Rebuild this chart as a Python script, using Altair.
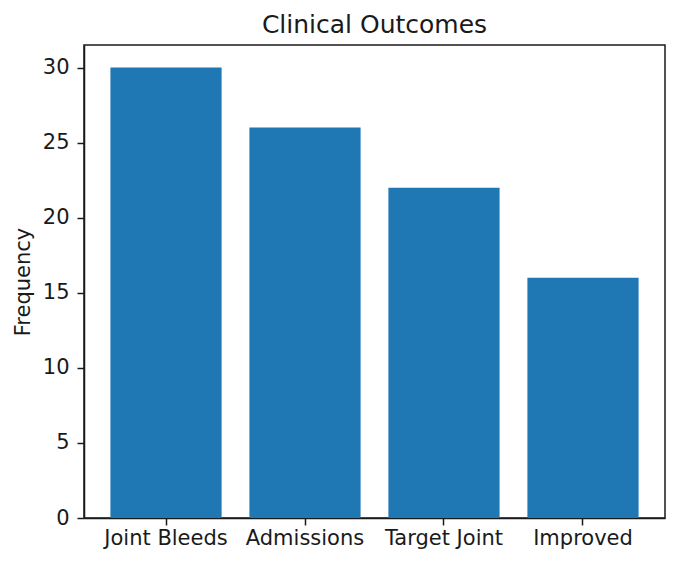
import altair as alt
import pandas as pd

categories = ["Joint Bleeds", "Admissions", "Target Joint", "Improved"]
values = [30, 26, 22, 16]
y_ticks = [0, 5, 10, 15, 20, 25, 30]

df = pd.DataFrame({"category": categories, "value": values})

FONT = "DejaVu Sans"
INK = "#1a1a1a"

chart = alt.Chart(df).mark_bar(color="#1f77b4").encode(
    x=alt.X("category:N", sort=categories, title=None,
            scale=alt.Scale(paddingInner=0.2, paddingOuter=0.19),
            axis=alt.Axis(labelAngle=0, labelFontSize=21, labelColor=INK,
                          labelPadding=2, tickSize=7, tickWidth=1.5,
                          tickColor=INK, domainColor=INK, domainWidth=1.5,
                          labelFont=FONT)),
    y=alt.Y("value:Q", title="Frequency",
            scale=alt.Scale(domain=[0, 31.5], nice=False),
            axis=alt.Axis(values=y_ticks, grid=False,
                          labelFontSize=21, labelColor=INK, tickSize=7,
                          tickWidth=1.5, tickColor=INK, domainColor=INK,
                          domainWidth=1.5, labelPadding=8,
                          titleFontSize=21, titleFontWeight="normal",
                          titleColor=INK, titlePadding=9,
                          labelFont=FONT, titleFont=FONT)),
).properties(
    width=581,
    height=473,
    title=alt.TitleParams("Clinical Outcomes", fontSize=25, fontWeight="normal",
                          color=INK, font=FONT, offset=7),
    autosize=alt.AutoSizeParams(type="none"),
    padding={"left": 76, "top": 37, "right": 1, "bottom": 32},
).configure_view(stroke=INK, strokeWidth=1.5)

chart.save("out.html", embed_options={"renderer": "svg", "actions": False})
